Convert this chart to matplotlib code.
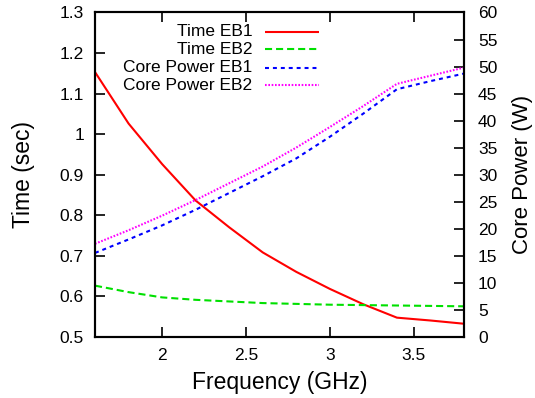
import matplotlib
matplotlib.use('Agg')
import matplotlib.pyplot as plt

plt.rcParams['font.family'] = ['Liberation Sans', 'DejaVu Sans']

# données
freq = [1.6, 1.8, 2.0, 2.2, 2.4, 2.6, 2.8, 3.0, 3.2, 3.4, 3.6, 3.8]
time_eb1 = [1.153, 1.026, 0.926, 0.836, 0.770, 0.708, 0.660, 0.618, 0.580, 0.547, 0.540, 0.532]
time_eb2 = [0.626, 0.610, 0.597, 0.591, 0.587, 0.583, 0.581, 0.579, 0.578, 0.577, 0.576, 0.575]
power_eb1 = [15.5, 18.0, 20.6, 23.5, 26.6, 29.7, 33.0, 37.0, 41.3, 45.8, 47.3, 48.7]
power_eb2 = [17.2, 19.7, 22.4, 25.3, 28.4, 31.5, 35.0, 38.8, 42.7, 46.8, 48.3, 49.8]

x_ticks = [2, 2.5, 3, 3.5]
x_labels = ['2', '2.5', '3', '3.5']
y_ticks = [0.5, 0.6, 0.7, 0.8, 0.9, 1.0, 1.1, 1.2, 1.3]
y_labels = ['0.5', '0.6', '0.7', '0.8', '0.9', '1', '1.1', '1.2', '1.3']
y2_ticks = list(range(0, 61, 5))

labels = ['Time EB1', 'Time EB2', 'Core Power EB1', 'Core Power EB2']
colors = ['#ff0000', '#00e000', '#0000ff', '#ff00ff']
styles = [(0, ()), (0, (3.4, 1.9)), (0, (1.9, 1.9)), (0, (0.8, 0.8))]

fig = plt.figure(figsize=(5.35, 3.98), dpi=100)
ax = fig.add_axes([0.1776, 0.154, 0.6897, 0.8146])
ax2 = ax.twinx()

lw = 1.5
ax.plot(freq, time_eb1, color=colors[0], lw=lw, linestyle=styles[0])
ax.plot(freq, time_eb2, color=colors[1], lw=lw, linestyle=styles[1])
ax2.plot(freq, power_eb1, color=colors[2], lw=lw, linestyle=styles[2])
ax2.plot(freq, power_eb2, color=colors[3], lw=lw, linestyle=styles[3])

ax.set_xlim(1.6, 3.8)
ax.set_ylim(0.5, 1.3)
ax2.set_ylim(0, 60)

ax.set_xticks(x_ticks, x_labels)
ax.set_yticks(y_ticks, y_labels)
ax2.set_yticks(y2_ticks, [str(v) for v in y2_ticks])

ax.tick_params(axis='x', direction='in', length=7, width=1.2, top=True, labelsize=12.5, pad=8)
ax.tick_params(axis='y', direction='in', length=7, width=1.2, right=False, labelsize=12.5, pad=8)
ax2.tick_params(axis='y', direction='in', length=7, width=1.2, labelsize=12.5, pad=10)

for a in (ax, ax2):
    for s in a.spines.values():
        s.set_linewidth(1.5)

ax.set_xlabel('Frequency (GHz)', fontsize=16.5)
ax.set_ylabel('Time (sec)', fontsize=16.5)
ax2.set_ylabel('Core Power (W)', fontsize=16)
ax.xaxis.set_label_coords(0.5, -0.14)
ax.yaxis.set_label_coords(-0.195, 0.5)
ax2.yaxis.set_label_coords(1.158, 0.5)
ax.xaxis.label.set_va('center')
ax.yaxis.label.set_va('center')
ax2.yaxis.label.set_va('center')

# légende façon gnuplot : texte aligné à droite, échantillon de ligne après
rows = [0.941, 0.886, 0.830, 0.776]
for lab, col, st, yy in zip(labels, colors, styles, rows):
    ax2.text(0.427, yy, lab, transform=ax2.transAxes, ha='right', va='center', fontsize=12.5)
    ax2.plot([0.461, 0.608], [yy, yy], transform=ax2.transAxes, color=col, lw=lw, linestyle=st)

fig.savefig('out.png', dpi=100)
